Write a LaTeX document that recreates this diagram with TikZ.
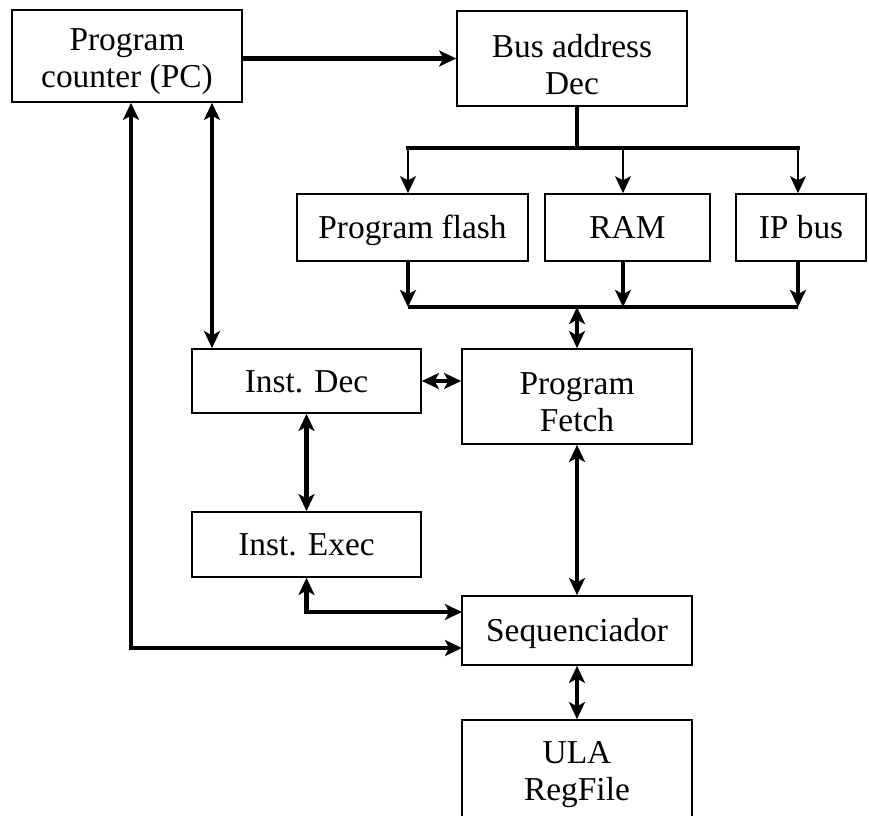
\documentclass[tikz,border=0pt]{standalone}
\usepackage{fontspec}
\setmainfont{Liberation Serif}
\usetikzlibrary{arrows.meta}
\begin{document}
\begin{tikzpicture}[x=0.03cm, y=-0.03cm,
  >={Stealth[length=14.5pt,width=13.5pt,inset=3.5pt]},
  blk/.style 2 args={draw, line width=1.4pt, inner sep=0pt,
    minimum width=#1*0.03cm, minimum height=#2*0.03cm,
    font=\fontsize{28.5}{31.5}\selectfont, text height=22.8pt, text depth=4pt},
  lbl/.style={inner sep=0pt, align=center, font=\fontsize{28.5}{31.5}\selectfont},
  heavy/.style={line width=4pt},
  forkline/.style={line width=3pt, line cap=rect},
  drop/.style={line width=1.8pt, ->}]
\useasboundingbox (0,0) rectangle (869,816);

% blocks
\node[blk={230}{92}]  (PC)    at (127,56)    {};
\node[blk={230}{95}]  (Bus)   at (572,58.5)  {};
\node[blk={231}{67}]  (Flash) at (412.5,227.5) {Program flash};
\node[blk={165}{67}]  (RAM)   at (627.5,227.5) {RAM};
\node[blk={130}{67}]  (IP)    at (801,227.5) {IP bus};
\node[blk={229}{64}]  (Dec)   at (306.5,381) {Inst. Dec};
\node[blk={230}{95}]  (Fetch) at (577,396.5) {};
\node[blk={229}{65}]  (Exec)  at (306.5,544.5) {Inst. Exec};
\node[blk={230}{69}]  (Seq)   at (577,630.5) {Sequenciador};
\node[blk={230}{98}]  (ULA)   at (577,769)   {};

% two-line captions, set a little below the box centre
\node[lbl] (PCt)    at ([yshift=-0.18cm]PC.center)    {Program\\counter (PC)};
\node[lbl] (Bust)   at ([yshift=-0.18cm]Bus.center)   {Bus address\\Dec};
\node[lbl] (Fetcht) at ([yshift=-0.18cm]Fetch.center) {Program\\Fetch};
\node[lbl] (ULAt)   at ([yshift=-0.18cm]ULA.center)   {ULA\\RegFile};

% junction points of the address fork and the data bus
\coordinate (fk) at (577,148);
\coordinate (fL) at (408,148);
\coordinate (fM) at (623,148);
\coordinate (fR) at (798,148);
\coordinate (bL) at (408,307);
\coordinate (bM) at (623,307);
\coordinate (bR) at (798,307);
\coordinate (bC) at (577,307);
\coordinate (sA) at (462,612);
\coordinate (sB) at (462,648);
\coordinate (xd) at (212,0);
\coordinate (xp) at (131,0);

% program counter to address decoder
\draw[heavy,->] (PC.east |- Bus.west) -- (Bus.west);

% address fork to the memories
\draw[heavy] (Bus.south -| fk) -- (fk);
\draw[forkline] (fL) -- (fR);
\draw[drop] (fL) -- (fL |- Flash.north);
\draw[drop] (fM) -- (fM |- RAM.north);
\draw[drop] (fR) -- (fR |- IP.north);

% memories onto the data bus
\draw[heavy,->] (Flash.south -| bL) -- (bL);
\draw[heavy,->] (RAM.south -| bM) -- (bM);
\draw[heavy,->] (IP.south -| bR) -- (bR);
\draw[heavy] (bL) -- (bR);
\draw[heavy,<->] (bC) -- (bC |- Fetch.north);

% core links
\draw[heavy,<->] (Dec.east) -- (Dec.east -| Fetch.west);
\draw[heavy,<->] (PC.south -| xd) -- (Dec.north -| xd);
\draw[heavy,<->] (Dec.south) -- (Exec.north);
\draw[heavy,<->] (Exec.south) |- (sA);
\draw[heavy,<->] (PC.south -| xp) |- (sB);
\draw[heavy,<->] (Fetch.south) -- (Seq.north);
\draw[heavy,<->] (Seq.south) -- (ULA.north);
\end{tikzpicture}
\end{document}
